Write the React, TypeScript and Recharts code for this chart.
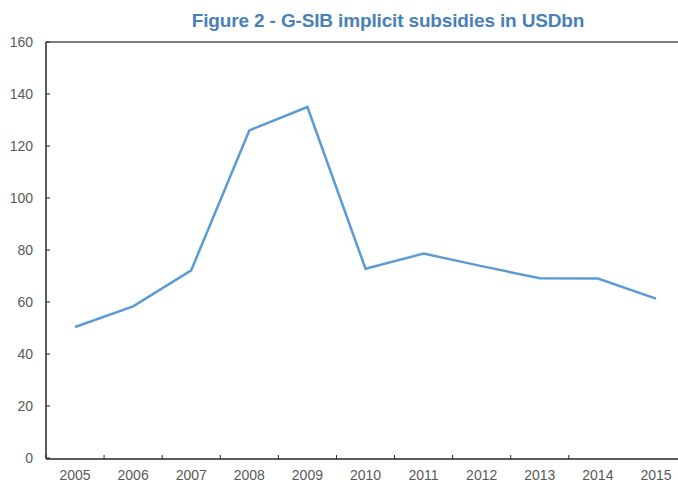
import { LineChart, Line, XAxis, YAxis, ReferenceLine } from "recharts";

const years = [2005, 2006, 2007, 2008, 2009, 2010, 2011, 2012, 2013, 2014, 2015];
const subsidies = [50.4, 58.3, 72.2, 126.0, 135.0, 72.8, 78.6, 73.8, 69.1, 69.0, 61.3];
const yTicks = [0, 20, 40, 60, 80, 100, 120, 140, 160];
const boundaryTicks = [2004.5, 2005.5, 2006.5, 2007.5, 2008.5, 2009.5, 2010.5, 2011.5, 2012.5, 2013.5, 2014.5, 2015.5];

const data = years.map((year, i) => ({ year, value: subsidies[i] }));

const labelStyle = { fontSize: 14, fill: "#595959", fontFamily: "'Liberation Sans', Arial, sans-serif" };

export default function App() {
  return (
    <div style={{ position: "fixed", left: 0, top: 0, width: 678, height: 482, overflow: "hidden", background: "#fff" }}>
      <div
        style={{
          position: "absolute",
          left: 138,
          width: 500,
          top: 10,
          textAlign: "center",
          fontFamily: "'Liberation Sans', Arial, sans-serif",
          fontWeight: "bold",
          fontSize: 19,
          letterSpacing: -0.15,
          whiteSpace: "nowrap",
          color: "#4a80b8",
        }}
      >
        Figure 2 - G-SIB implicit subsidies in USDbn
      </div>
      <LineChart width={690} height={483} data={data} margin={{ top: 42, right: 5, bottom: 0, left: 0 }}>
        <XAxis
          xAxisId="marks"
          dataKey="year"
          type="number"
          domain={[2004.5, 2015.5]}
          ticks={boundaryTicks}
          tick={() => <g />}
          tickSize={-4}
          height={24}
          axisLine={{ stroke: "#262626", strokeWidth: 1.5 }}
          tickLine={{ stroke: "#262626", strokeWidth: 1 }}
        />
        <XAxis
          xAxisId="labels"
          dataKey="year"
          type="number"
          domain={[2004.5, 2015.5]}
          ticks={years}
          tickSize={0}
          tickMargin={12}
          height={1}
          axisLine={false}
          tickLine={false}
          tick={labelStyle}
          interval={0}
        />
        <YAxis
          domain={[0, 160]}
          ticks={yTicks}
          width={46}
          tickSize={-4}
          tickMargin={17}
          axisLine={{ stroke: "#262626", strokeWidth: 1.5 }}
          tickLine={{ stroke: "#262626", strokeWidth: 1 }}
          tick={labelStyle}
        />
        <ReferenceLine y={160} xAxisId="marks" stroke="#7f7f7f" strokeWidth={2} />
        <Line
          xAxisId="marks"
          dataKey="value"
          stroke="#5b9bd5"
          strokeWidth={2.5}
          dot={false}
          isAnimationActive={false}
        />
      </LineChart>
    </div>
  );
}
